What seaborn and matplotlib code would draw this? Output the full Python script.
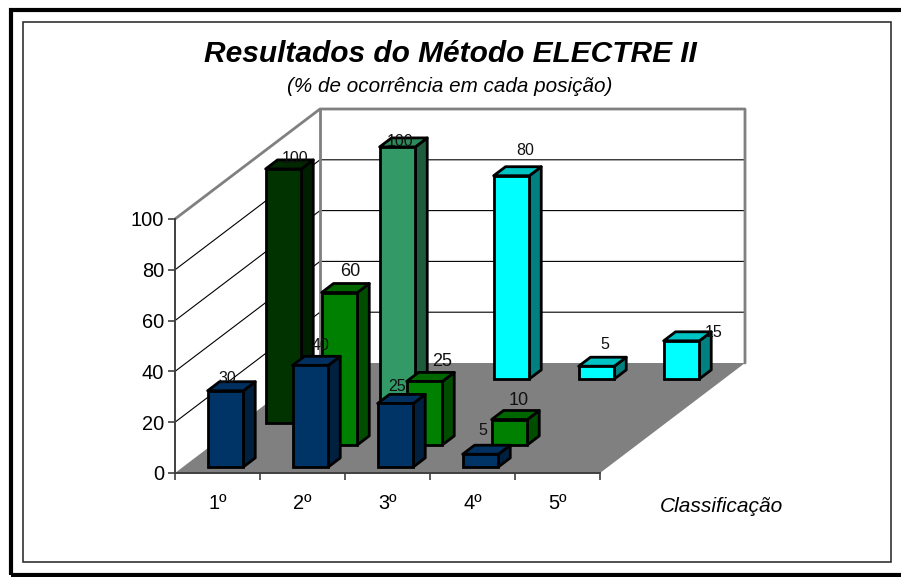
import numpy as np
import pandas as pd
import matplotlib
matplotlib.use("Agg")
import matplotlib.pyplot as plt
from matplotlib.patches import Polygon, Rectangle
from matplotlib.lines import Line2D
from matplotlib.transforms import Affine2D
import seaborn as sns

# === Data ===
positions = ["1º", "2º", "3º", "4º", "5º"]
series_blue = [30, 40, 25, 5, np.nan]
series_green = [np.nan, 60, 25, 10, np.nan]
series_darkgreen = [100, np.nan, np.nan, np.nan, np.nan]
series_seagreen = [np.nan, 100, np.nan, np.nan, np.nan]
series_cyan = [np.nan, np.nan, 80, 5, 15]
y_ticks = [0, 20, 40, 60, 80, 100]

# === Styling per series, front row first ===
rows = [
    (series_blue, "#003366", "#002040", "#003060", 11.5),
    (series_green, "#008000", "#004d00", "#006600", 13),
    (series_darkgreen, "#003300", "#001f00", "#002900", 11.5),
    (series_seagreen, "#339966", "#1f5c3d", "#2e8a5c", 11.5),
    (series_cyan, "#00ffff", "#008080", "#00c4c4", 11.5),
]

# label offsets in pixels from the bar's front top centre (row, category)
label_nudge = {
    (0, 0): (2, 12), (0, 1): (10, 20), (0, 2): (2, 17), (0, 3): (2, 24),
    (1, 1): (11, 21), (1, 2): (18, 20), (1, 3): (9, 19),
    (2, 0): (12, 10), (3, 1): (3, 5),
    (4, 2): (14, 25), (4, 3): (8, 22), (4, 4): (32, 8),
}

W, H = 901, 577
sns.set_style("white")
plt.rcParams["font.family"] = ["Liberation Sans", "DejaVu Sans"]

fig = plt.figure(figsize=(W / 100, H / 100), dpi=100, facecolor="white")
ax = fig.add_axes([175 / W, (H - 473) / H, 425 / W, 254 / H])
ax.patch.set_visible(False)

# one row of depth moves this much, in data units
row_dx = 29 / 85
row_dy = 22 / 2.54
n_rows = len(rows)
bar_start = 0.276
bar_depth = 0.41
bar_width = 0.42


def sheared(depth):
    return Affine2D().translate(depth * row_dx, depth * row_dy) + ax.transData


def at(x, y, depth):
    return (x + depth * row_dx, y + depth * row_dy)


# === Bars, back row first ===
for i in range(n_rows - 1, -1, -1):
    vals, face, side, top, size = rows[i]
    df = pd.DataFrame({"pos": positions, "val": vals}).dropna()
    before = len(ax.patches)
    sns.barplot(data=df, x="pos", y="val", order=positions, color=face, saturation=1,
                width=bar_width, errorbar=None, edgecolor="black", linewidth=2.0,
                ax=ax, clip_on=False)
    z = 10 + (n_rows - i) * 2
    d0, d1 = i + bar_start, i + bar_start + bar_depth
    for bar in list(ax.patches[before:]):
        x0, w, h = bar.get_x(), bar.get_width(), bar.get_height()
        if np.isnan(h):
            continue
        bar.set_transform(sheared(d0))
        bar.set_zorder(z + 1)
        bar.set_clip_on(False)
        side_pts = [at(x0 + w, 0, d0), at(x0 + w, 0, d1), at(x0 + w, h, d1), at(x0 + w, h, d0)]
        top_pts = [at(x0, h, d0), at(x0 + w, h, d0), at(x0 + w, h, d1), at(x0, h, d1)]
        for pts, col in [(side_pts, side), (top_pts, top)]:
            ax.add_patch(Polygon(pts, closed=True, facecolor=col, edgecolor="black",
                                 linewidth=2.0, joinstyle="round", zorder=z, clip_on=False))
        cat = int(round(x0 + w / 2))
        nx, ny = label_nudge[(i, cat)]
        ax.annotate(f"{h:.0f}", xy=at(x0 + w / 2, h, d0), xytext=(nx * 0.72, ny * 0.72),
                    textcoords="offset points", ha="center", va="center", fontsize=size,
                    color="#111111", zorder=50, annotation_clip=False)

# === Axes limits and ticks ===
ax.set_xlim(-0.5, 4.5)
ax.set_ylim(0, 100)
ax.set_xlabel("")
ax.set_ylabel("")
for name in ["top", "right"]:
    ax.spines[name].set_visible(False)
for name in ["left", "bottom"]:
    ax.spines[name].set_color("#404040")
    ax.spines[name].set_linewidth(1.4)
    ax.spines[name].set_zorder(5)
ax.set_yticks(y_ticks)
ax.set_yticklabels([str(v) for v in y_ticks], fontsize=14.4, color="black")
ax.set_xticks(np.arange(-0.5, 5, 1))
ax.set_xticklabels([])
ax.set_xticks(np.arange(len(positions)), minor=True)
ax.set_xticklabels(positions, minor=True, fontsize=14.4, color="black")
ax.tick_params(axis="both", which="major", direction="out", length=5, width=1.2, color="#404040",
               left=True, bottom=True, pad=3)
ax.tick_params(axis="x", which="minor", length=0, pad=15)

# === Floor and walls ===
depth_end = n_rows
ax.add_patch(Polygon([at(-0.5, 0, 0), at(4.5, 0, 0), at(4.5, 0, depth_end), at(-0.5, 0, depth_end)],
                     closed=True, facecolor="#808080", edgecolor="none", zorder=1, clip_on=False))
for v in y_ticks[1:-1]:
    pts = [at(-0.5, v, 0), at(-0.5, v, depth_end), at(4.5, v, depth_end)]
    ax.add_line(Line2D(*zip(*pts), color="black", lw=0.8, zorder=2, clip_on=False))
edge_runs = [
    [at(-0.5, 100, 0), at(-0.5, 100, depth_end), at(4.5, 100, depth_end), at(4.5, 0, depth_end)],
    [at(-0.5, 100, depth_end), at(-0.5, 0, depth_end)],
]
for run in edge_runs:
    ax.add_line(Line2D(*zip(*run), color="#808080", lw=2.0, zorder=3, clip_on=False))

# === Texts ===
fig.text(450 / W, 1 - 54 / H, "Resultados do Método ELECTRE II", ha="center", va="center",
         fontsize=21.5, fontweight="bold", fontstyle="italic", color="black")
fig.text(450 / W, 1 - 86.5 / H, "(% de ocorrência em cada posição)", ha="center", va="center",
         fontsize=14.9, fontstyle="italic", color="black")
fig.text(721 / W, 1 - 507 / H, "Classificação", ha="center", va="center",
         fontsize=15, fontstyle="italic", color="black")

# === Chart frames ===
fig.add_artist(Rectangle((23 / W, 1 - 562 / H), 868 / W, 540 / H, transform=fig.transFigure,
                         fill=False, edgecolor="#202020", linewidth=1.1))
fig.add_artist(Rectangle((11 / W, 1 - 575 / H), 890 / W + 0.02, 565 / H, transform=fig.transFigure,
                         fill=False, edgecolor="black", linewidth=3.0, clip_on=True))

fig.savefig("out.png", dpi=100)
